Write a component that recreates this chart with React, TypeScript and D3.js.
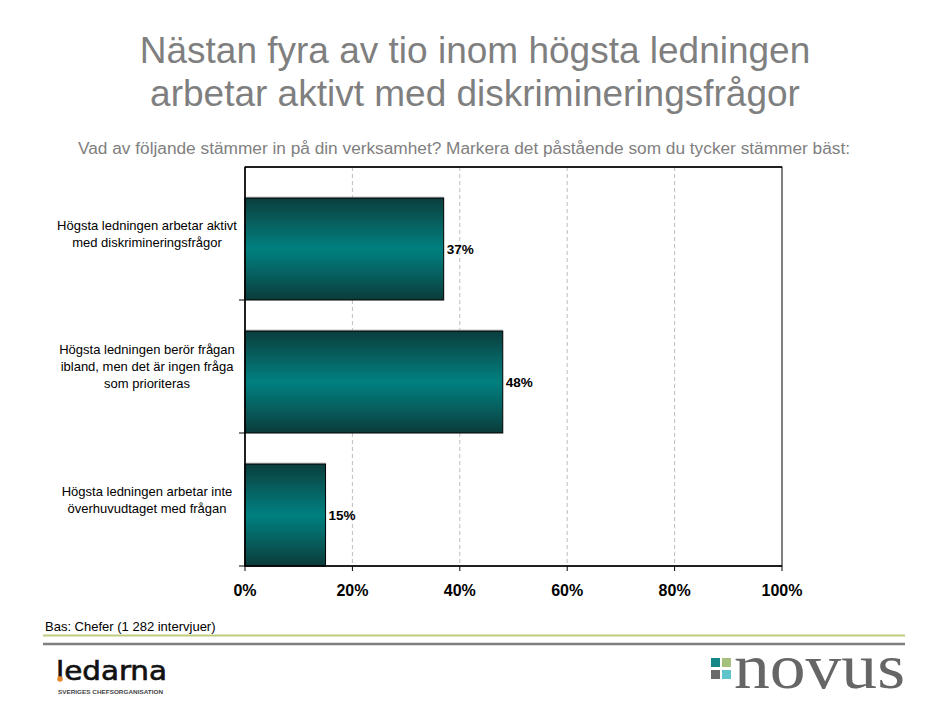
import React from "react";
import * as d3 from "d3";

const categories = [
  ["Högsta ledningen arbetar aktivt", "med diskrimineringsfrågor"],
  ["Högsta ledningen berör frågan", "ibland, men det är ingen fråga", "som prioriteras"],
  ["Högsta ledningen arbetar inte", "överhuvudtaget med frågan"],
];
const values = [37, 48, 15];
const xTicks = [0, 20, 40, 60, 80, 100];

const titleLines = ["Nästan fyra av tio inom högsta ledningen", "arbetar aktivt med diskrimineringsfrågor"];
const subtitle = "Vad av följande stämmer in på din verksamhet? Markera det påstående som du tycker stämmer bäst:";
const baseNote = "Bas: Chefer (1 282 intervjuer)";

const W = 939;
const H = 703;
const margin = { top: 167, right: 157, bottom: 137, left: 245 };

export default function App() {
  const innerW = W - margin.left - margin.right;
  const innerH = H - margin.top - margin.bottom;

  const x = d3.scaleLinear().domain([0, 100]).range([0, innerW]);
  const y = d3
    .scaleBand<number>()
    .domain(d3.range(categories.length))
    .range([0, innerH]);
  const band = y.bandwidth();
  const barH = band * 0.767;

  return (
    <svg
      width={W}
      height={H}
      style={{ position: "absolute", left: 0, top: 0, fontFamily: "Arial, 'Liberation Sans', sans-serif" }}
    >
      <defs>
        <linearGradient id="barGrad" x1="0" y1="0" x2="0" y2="1">
          <stop offset="0%" stopColor="#0b3d3d" />
          <stop offset="25%" stopColor="#06605f" />
          <stop offset="50%" stopColor="#008080" />
          <stop offset="75%" stopColor="#06605f" />
          <stop offset="100%" stopColor="#0b3b3b" />
        </linearGradient>
      </defs>
      <rect width={W} height={H} fill="#fff" />

      {/* title */}
      {titleLines.map((t, i) => (
        <text key={i} x={475} y={63 + i * 43} textAnchor="middle" fontSize={37} fill="#7f7f7f">
          {t}
        </text>
      ))}
      <text x={464} y={154} textAnchor="middle" fontSize={16} fill="#808080" textLength={772} lengthAdjust="spacingAndGlyphs">
        {subtitle}
      </text>

      <g transform={`translate(${margin.left},${margin.top})`}>
        {/* grid */}
        {xTicks.slice(1, -1).map((t) => (
          <line key={t} x1={x(t)} x2={x(t)} y1={0} y2={innerH} stroke="#bdbdbd" strokeDasharray="4,3" />
        ))}
        {/* frame */}
        <rect x={0} y={0} width={innerW} height={innerH} fill="none" stroke="#000" strokeWidth={1} />
        <line x1={0} x2={innerW} y1={0} y2={0} stroke="#000" strokeWidth={1.5} />

        {/* bars */}
        {values.map((v, i) => {
          const by = (y(i) as number) + band - barH;
          return (
            <g key={i}>
              <line x1={0} x2={x(v)} y1={by - 1} y2={by - 1} stroke="#c8c8c8" />
              <rect x={0} y={by} width={x(v)} height={barH} fill="url(#barGrad)" stroke="#000" strokeWidth={1} />
              <text x={x(v) + 3} y={by + barH / 2 + 5} fontSize={13.5} fontWeight="bold" fill="#000">
                {v}%
              </text>
            </g>
          );
        })}

        {/* left axis */}
        <line x1={0} x2={0} y1={0} y2={innerH} stroke="#000" strokeWidth={1.5} />
        {categories.map((_, i) => (
          <line key={i} x1={-6} x2={0} y1={(y(i) as number) + band} y2={(y(i) as number) + band} stroke="#000" />
        ))}
        {categories.map((lines, i) => {
          const cy = (y(i) as number) + band / 2;
          const lh = 17;
          const start = cy - ((lines.length - 1) * lh) / 2 + 4.5;
          return (
            <text key={i} x={-98} textAnchor="middle" fontSize={13} fill="#000">
              {lines.map((l, j) => (
                <tspan key={j} x={-98} y={start + j * lh}>
                  {l}
                </tspan>
              ))}
            </text>
          );
        })}

        {/* bottom axis */}
        <line x1={0} x2={innerW} y1={innerH} y2={innerH} stroke="#000" strokeWidth={1.5} />
        {xTicks.map((t) => (
          <g key={t} transform={`translate(${x(t)},${innerH})`}>
            <line y1={0} y2={5} stroke="#000" />
            <text y={30} textAnchor="middle" fontSize={16} fontWeight="bold" fill="#000">
              {t}%
            </text>
          </g>
        ))}
      </g>

      {/* footer */}
      <text x={45} y={631} fontSize={13} fill="#000">
        {baseNote}
      </text>
      <line x1={43} x2={905} y1={635.5} y2={635.5} stroke="#bfcb80" strokeWidth={2} />
      <line x1={43} x2={905} y1={644} y2={644} stroke="#7f7f7f" strokeWidth={2.5} />

      {/* ledarna logo */}
      <text x={56} y={680} fontSize={27} fill="#111" stroke="#111" strokeWidth={0.6} fontFamily="'DejaVu Sans Condensed', 'Liberation Sans Narrow', sans-serif" textLength={111} lengthAdjust="spacingAndGlyphs">
        ledarna
      </text>
      <circle cx={60} cy={679} r={2.8} fill="#e8892c" />
      <text x={58} y={694} fontSize={5.5} fill="#444" fontWeight="bold" textLength={105} lengthAdjust="spacingAndGlyphs">
        SVERIGES CHEFSORGANISATION
      </text>

      {/* novus logo */}
      <rect x={711} y={658} width={9} height={9} fill="#168787" />
      <rect x={722} y={658} width={9} height={9} fill="#a7c07e" />
      <rect x={711} y={670} width={9} height={9} fill="#6b6b6b" />
      <rect x={722} y={670} width={9} height={9} fill="#5ec4cb" />
      <text x={734} y={688} fontSize={64} fill="#666" fontFamily="'Liberation Serif', 'DejaVu Serif', serif" textLength={171} lengthAdjust="spacingAndGlyphs">
        novus
      </text>
    </svg>
  );
}
